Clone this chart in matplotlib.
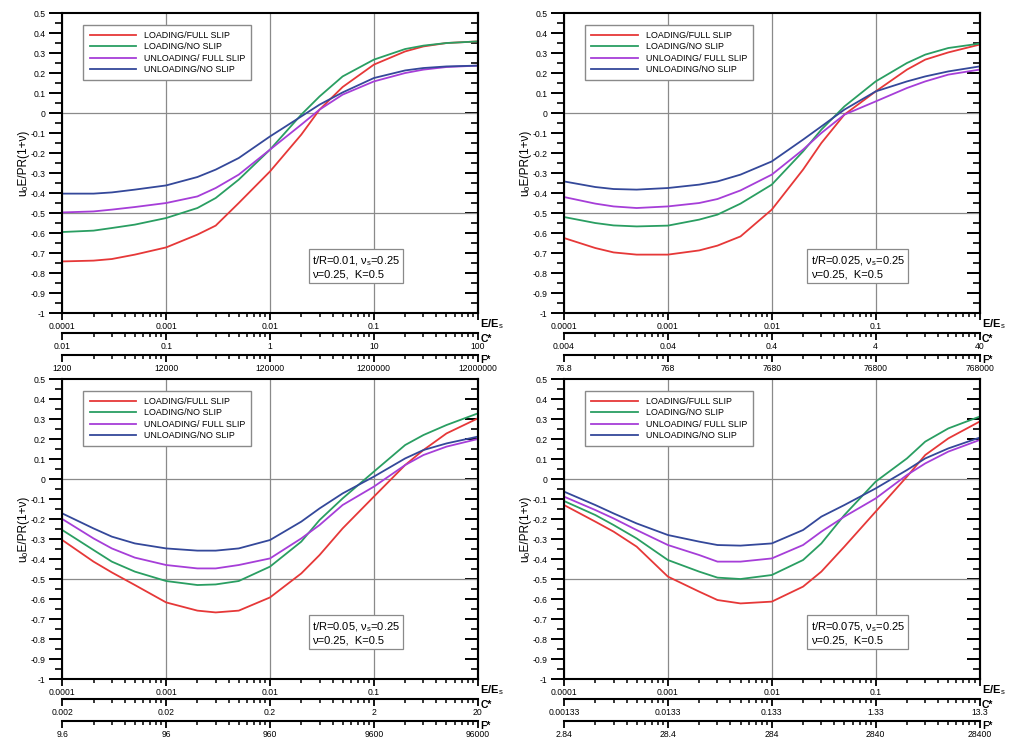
import matplotlib
matplotlib.use("Agg")
import matplotlib.pyplot as plt
from matplotlib.ticker import NullFormatter

plt.rcParams['font.family'] = ['Liberation Sans', 'DejaVu Sans']
plt.rcParams['mathtext.fontset'] = 'custom'
plt.rcParams['mathtext.rm'] = 'Liberation Sans'
plt.rcParams['mathtext.it'] = 'Liberation Sans:italic'

# ---- data ------------------------------------------------------------------
e_ratio = [1e-4, 2e-4, 3e-4, 5e-4, 1e-3, 2e-3, 3e-3, 5e-3, 1e-2,
           2e-2, 3e-2, 5e-2, 1e-1, 2e-1, 3e-1, 5e-1, 1.0]

series_names = ["LOADING/FULL SLIP", "LOADING/NO SLIP",
                "UNLOADING/ FULL SLIP", "UNLOADING/NO SLIP"]
series_colors = ["#e63838", "#2a9e62", "#a63ed8", "#34489a"]

# t/R = 0.01
p1_load_full = [-0.742, -0.738, -0.730, -0.708, -0.672, -0.608, -0.563, -0.450, -0.292,
                -0.108, 0.017, 0.130, 0.242, 0.308, 0.333, 0.350, 0.358]
p1_load_no = [-0.595, -0.588, -0.575, -0.558, -0.525, -0.475, -0.425, -0.333, -0.183,
              -0.008, 0.083, 0.183, 0.267, 0.320, 0.337, 0.350, 0.358]
p1_unload_full = [-0.497, -0.492, -0.483, -0.470, -0.450, -0.417, -0.375, -0.308, -0.183,
                  -0.058, 0.017, 0.092, 0.158, 0.200, 0.217, 0.230, 0.237]
p1_unload_no = [-0.403, -0.403, -0.397, -0.383, -0.362, -0.320, -0.283, -0.225, -0.117,
                -0.017, 0.042, 0.103, 0.175, 0.213, 0.225, 0.233, 0.237]

# t/R = 0.025
p2_load_full = [-0.625, -0.675, -0.697, -0.708, -0.708, -0.687, -0.663, -0.617, -0.483,
                -0.283, -0.150, -0.008, 0.108, 0.217, 0.267, 0.303, 0.342]
p2_load_no = [-0.520, -0.550, -0.562, -0.567, -0.563, -0.533, -0.508, -0.453, -0.358,
              -0.192, -0.083, 0.033, 0.158, 0.250, 0.292, 0.325, 0.347]
p2_unload_full = [-0.420, -0.453, -0.467, -0.475, -0.467, -0.450, -0.430, -0.387, -0.308,
                  -0.183, -0.100, -0.008, 0.058, 0.125, 0.158, 0.192, 0.217]
p2_unload_no = [-0.342, -0.370, -0.380, -0.383, -0.375, -0.358, -0.342, -0.308, -0.242,
                -0.133, -0.067, 0.017, 0.108, 0.158, 0.183, 0.208, 0.233]

# t/R = 0.05
p3_load_full = [-0.305, -0.413, -0.467, -0.530, -0.617, -0.658, -0.667, -0.658, -0.592,
                -0.472, -0.380, -0.247, -0.088, 0.070, 0.145, 0.228, 0.303]
p3_load_no = [-0.255, -0.355, -0.413, -0.463, -0.510, -0.530, -0.527, -0.510, -0.438,
              -0.313, -0.205, -0.097, 0.037, 0.170, 0.220, 0.270, 0.328]
p3_unload_full = [-0.200, -0.297, -0.347, -0.393, -0.430, -0.447, -0.447, -0.430, -0.397,
                  -0.297, -0.230, -0.130, -0.038, 0.070, 0.120, 0.162, 0.200]
p3_unload_no = [-0.172, -0.247, -0.288, -0.322, -0.347, -0.358, -0.358, -0.347, -0.305,
                -0.213, -0.147, -0.072, 0.012, 0.103, 0.145, 0.178, 0.212]

# t/R = 0.075
p4_load_full = [-0.130, -0.213, -0.263, -0.338, -0.488, -0.563, -0.605, -0.622, -0.613,
                -0.538, -0.463, -0.338, -0.163, 0.012, 0.120, 0.203, 0.287]
p4_load_no = [-0.110, -0.180, -0.230, -0.297, -0.405, -0.463, -0.493, -0.500, -0.480,
              -0.405, -0.322, -0.180, -0.013, 0.103, 0.187, 0.253, 0.312]
p4_unload_full = [-0.088, -0.155, -0.197, -0.255, -0.330, -0.380, -0.413, -0.413, -0.397,
                  -0.330, -0.263, -0.188, -0.097, 0.020, 0.078, 0.137, 0.195]
p4_unload_no = [-0.063, -0.130, -0.172, -0.222, -0.280, -0.313, -0.330, -0.333, -0.322,
                -0.255, -0.188, -0.130, -0.047, 0.045, 0.103, 0.153, 0.207]

panel_tr = ["0.01", "0.025", "0.05", "0.075"]
c_factor = [100.0, 40.0, 20.0, 13.3]
f_factor = [1.2e7, 7.68e5, 9.6e4, 2.84e4]
c_labels = [["0.01", "0.1", "1", "10", "100"],
            ["0.004", "0.04", "0.4", "4", "40"],
            ["0.002", "0.02", "0.2", "2", "20"],
            ["0.00133", "0.0133", "0.133", "1.33", "13.3"]]
f_labels = [["1200", "12000", "120000", "1200000", "12000000"],
            ["76.8", "768", "7680", "76800", "768000"],
            ["9.6", "96", "960", "9600", "96000"],
            ["2.84", "28.4", "284", "2840", "28400"]]

e_ticks = [1e-4, 1e-3, 1e-2, 1e-1, 1.0]
e_labels = ["0.0001", "0.001", "0.01", "0.1", ""]
y_ticks = [0.5, 0.4, 0.3, 0.2, 0.1, 0.0, -0.1, -0.2, -0.3, -0.4, -0.5,
           -0.6, -0.7, -0.8, -0.9, -1.0]
y_labels = ["0.5", "0.4", "0.3", "0.2", "0.1", "0", "-0.1", "-0.2", "-0.3", "-0.4",
            "-0.5", "-0.6", "-0.7", "-0.8", "-0.9", "-1"]
y_grid = [0.0, -0.5]

panel_series = [
    [p1_load_full, p1_load_no, p1_unload_full, p1_unload_no],
    [p2_load_full, p2_load_no, p2_unload_full, p2_unload_no],
    [p3_load_full, p3_load_no, p3_unload_full, p3_unload_no],
    [p4_load_full, p4_load_no, p4_unload_full, p4_unload_no],
]

# axes rectangles in figure fraction (left, bottom, width, height)
rects = [(0.0617, 0.577, 0.4118, 0.4054),
         (0.5590, 0.577, 0.4118, 0.4054),
         (0.0617, 0.0824, 0.4118, 0.4054),
         (0.5590, 0.0824, 0.4118, 0.4054)]

minor_mult = [m * 10.0 ** k for k in range(-4, 0) for m in range(2, 10)]

SPINE_W = 1.5
TICK_FS = 6.2


def style_xaxis(axis_obj):
    axis_obj.set_tick_params(which='major', direction='out', length=5, width=1.3,
                             pad=1.5, labelsize=TICK_FS)
    axis_obj.set_tick_params(which='minor', direction='out', length=3, width=1.1)


fig = plt.figure(figsize=(10.09, 7.40), dpi=100)

for i, rect in enumerate(rects):
    ax = fig.add_axes(rect)
    for name, color, vals in zip(series_names, series_colors, panel_series[i]):
        ax.plot(e_ratio, vals, color=color, lw=1.3, label=name)

    ax.set_xscale('log')
    ax.set_xlim(1e-4, 1.0)
    ax.set_ylim(-1.0, 0.5)

    ax.grid(axis='x', which='major', color='#8a8a8a', lw=0.9)
    for gy in y_grid:
        ax.axhline(gy, color='#8a8a8a', lw=0.9, zorder=0.5)

    for sp in ax.spines.values():
        sp.set_linewidth(SPINE_W)

    # x axis (E/Es)
    ax.set_xticks(e_ticks, e_labels)
    ax.set_xticks(minor_mult, minor=True)
    ax.xaxis.set_minor_formatter(NullFormatter())
    ax.xaxis.set_ticks_position('bottom')
    style_xaxis(ax.xaxis)

    # y axis: outward on left, inward on right
    ax.set_yticks(y_ticks, y_labels)
    ax.set_yticks([v + 0.05 for v in y_ticks[1:]], minor=True)
    ax.yaxis.set_ticks_position('left')
    ax.tick_params(axis='y', which='major', direction='out', length=9.5, width=1.4,
                   pad=2.5, labelsize=TICK_FS)
    ax.tick_params(axis='y', which='minor', direction='out', length=5, width=1.2)
    ax.set_ylabel("u\u2080E/PR(1+\u03bd)", fontsize=8.5, labelpad=1)

    ry = ax.secondary_yaxis('right')
    ry.set_yticks(y_ticks, [""] * len(y_ticks))
    ry.set_yticks([v + 0.05 for v in y_ticks[1:]], minor=True)
    ry.tick_params(axis='y', which='major', direction='in', length=9.5, width=1.4)
    ry.tick_params(axis='y', which='minor', direction='in', length=5, width=1.2)
    ry.spines['right'].set_linewidth(SPINE_W)

    # C* and F* scales below
    for loc, fac, labs in ((-0.068, c_factor[i], c_labels[i]),
                           (-0.140, f_factor[i], f_labels[i])):
        sec = ax.secondary_xaxis(loc, functions=(lambda x, f=fac: x * f,
                                                 lambda x, f=fac: x / f))
        sec.set_xticks([t * fac for t in e_ticks], labs)
        sec.set_xticks([t * fac for t in minor_mult], minor=True)
        sec.xaxis.set_minor_formatter(NullFormatter())
        style_xaxis(sec.xaxis)
        sec.spines['bottom'].set_linewidth(SPINE_W)

    ax.text(1.006, -0.036, "E/E$_\\mathrm{s}$", transform=ax.transAxes, fontsize=8,
            fontweight='bold', ha='left', va='center')
    ax.text(1.006, -0.088, "C*", transform=ax.transAxes, fontsize=7.5,
            fontweight='bold', ha='left', va='center')
    ax.text(1.006, -0.158, "F*", transform=ax.transAxes, fontsize=7.5,
            fontweight='bold', ha='left', va='center')

    ax.legend(loc='upper left', bbox_to_anchor=(0.04, 0.975), fontsize=6.4,
              frameon=True, fancybox=False, edgecolor='#8a8a8a', framealpha=1,
              handlelength=5.2, handletextpad=0.9, labelspacing=0.25,
              borderpad=0.7)

    ax.text(0.707, 0.112,
            "t/R=%s, \u03bd$_\\mathrm{s}$=0.25\n\u03bd=0.25,  K=0.5" % panel_tr[i],
            transform=ax.transAxes, fontsize=8, ha='center', va='bottom',
            multialignment='left',
            bbox=dict(boxstyle='square,pad=0.3', fc='white', ec='#8a8a8a', lw=0.9))

fig.savefig("out.png", dpi=100)
